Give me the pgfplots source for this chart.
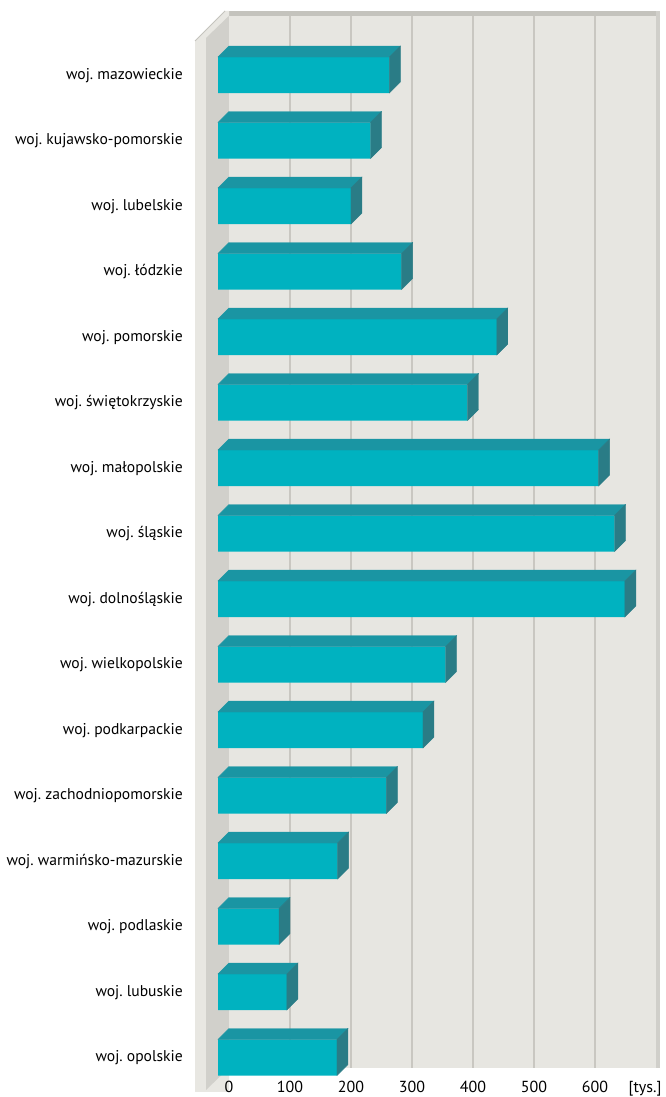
\documentclass[border=0pt]{standalone}
\usepackage{pgfplots}
\pgfplotsset{compat=1.18}
\usepackage{pgfplotstable}
\usepackage{fontspec}
\setmainfont{PT Sans}
\frenchspacing
\definecolor{frontcol}{HTML}{00B2C0}
\definecolor{topcol}{HTML}{1A95A3}
\definecolor{sidecol}{HTML}{2A7C86}
\definecolor{wallcol}{HTML}{E7E6E1}
\definecolor{gridcol}{HTML}{C9C7C1}
\definecolor{leftdark}{HTML}{D1D0CB}
\definecolor{leftlight}{HTML}{E8E7E2}
\definecolor{framecol}{HTML}{C4C3BD}
\definecolor{rightcol}{HTML}{D0CFCA}
\pgfplotstableread{
y v
0 195
1 113
2 100
3 196
4 276
5 336
6 373
7 667
8 650
9 624
10 409
11 457
12 301
13 218
14 250
15 281
}\data
\pgfdeclareplotmark{emptythreed}{}
\begin{document}
\begin{tikzpicture}
\useasboundingbox (0pt,0pt) rectangle (665pt,1097pt);
\fill[framecol] (224pt,1081pt) rectangle (660pt,1086pt);
\fill[rightcol] (656pt,29pt) rectangle (660pt,1086pt);
\fill[leftlight] (195pt,5pt) -- (195pt,1056pt) -- (225pt,1086pt) -- (229pt,1086pt) -- (229pt,5pt) -- cycle;
\draw[framecol, line width=1pt] (195pt,1056pt) -- (225pt,1086pt);
\fill[leftdark] (206pt,7pt) -- (206pt,1059pt) -- (228.8pt,1081pt) -- (228.8pt,29pt) -- cycle;
\begin{axis}[
  at={(229pt,29pt)}, anchor=south west,
  x=0.61pt, y=65.5pt,
  xmin=0, xmax=700, ymin=-0.328, ymax=15.733,
  clip=false,
  axis background/.style={fill=wallcol},
  axis line style={draw=none},
  major tick length=0pt,
  xtick={100,200,...,600},
  xmajorgrids,
  major grid style={draw=gridcol, line width=1.6pt},
  extra x ticks={0,682},
  extra x tick labels={0,[tys.]},
  extra x tick style={grid=none},
  ytick={0,...,15},
  yticklabels={woj. opolskie, woj. lubuskie, woj. podlaskie, woj. warmińsko-mazurskie, woj. zachodniopomorskie, woj. podkarpackie, woj. wielkopolskie, woj. dolnośląskie, woj. śląskie, woj. małopolskie, woj. świętokrzyskie, woj. pomorskie, woj. łódzkie, woj. lubelskie, woj. kujawsko-pomorskie, woj. mazowieckie},
  yticklabel style={font=\fontsize{15.6}{17}\selectfont, anchor=base east, inner sep=0pt, xshift=-46pt, yshift=-15pt},
  xticklabel style={font=\fontsize{16}{18}\selectfont, anchor=base, inner sep=0pt, yshift=-24.5pt},
  /pgf/number format/assume math mode=true,
  scaled x ticks=false,
]
\addplot[xbar, bar width=36pt, fill=frontcol, draw=none, xshift=-11pt, yshift=-11pt] table[x=v, y=y] {\data};
\addplot[scatter, only marks, mark=emptythreed,
  visualization depends on={\thisrow{v} \as \val},
  scatter/@pre marker code/.code={%
    \pgfmathsetmacro\L{\val*0.61}%
    \fill[topcol] (-\L pt-11pt,7pt) -- (-11pt,7pt) -- (0pt,18pt) -- (-\L pt,18pt) -- cycle;
    \fill[sidecol] (-11pt,7pt) -- (0pt,18pt) -- (0pt,-18pt) -- (-11pt,-29pt) -- cycle;
  },
  scatter/@post marker code/.code={}]
  table[x=v, y=y] {\data};
\end{axis}
\end{tikzpicture}
\end{document}
